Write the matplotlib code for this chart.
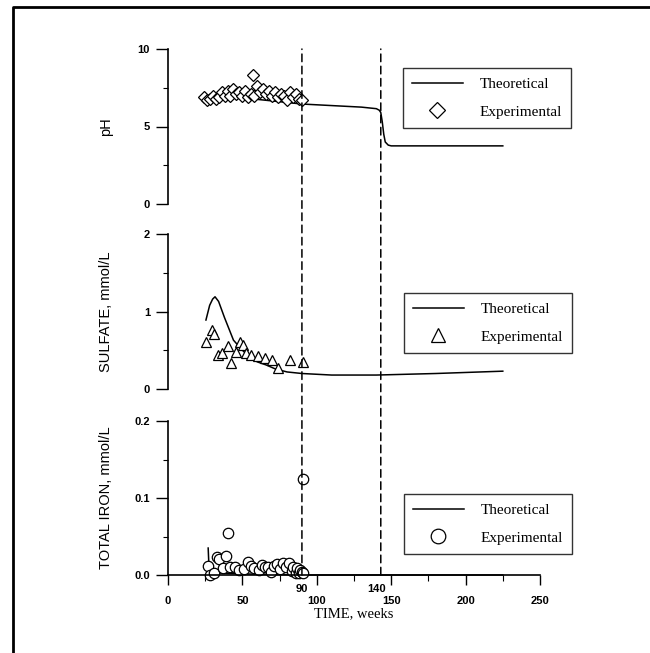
import matplotlib
matplotlib.use("Agg")
import matplotlib.pyplot as plt
from matplotlib.lines import Line2D
from matplotlib.patches import ConnectionPatch
from matplotlib.ticker import MultipleLocator, FixedLocator
import matplotlib.transforms as mtransforms

# ---------------- data ----------------
ph_exp_weeks = [24, 26, 28, 30, 32, 34, 36, 38, 40, 42, 44, 46, 48, 50, 52, 54, 56, 57, 58, 60,
                62, 64, 66, 68, 70, 72, 74, 76, 78, 80, 82, 84, 86, 88, 90]
ph_exp = [6.9, 6.7, 6.8, 7.0, 6.8, 6.9, 7.2, 7.0, 7.3, 7.0, 7.4, 7.1, 7.2, 7.0, 7.3, 6.9, 7.1, 8.3, 7.0, 7.6,
          7.2, 7.4, 7.1, 7.3, 7.0, 7.2, 6.9, 7.1, 7.0, 6.7, 7.2, 6.9, 7.1, 6.8, 6.7]
ph_th_weeks = [25, 40, 60, 90, 110, 130, 140, 142, 143, 144, 145, 146, 148, 150, 170, 200, 225]
ph_th = [6.9, 6.85, 6.75, 6.45, 6.35, 6.25, 6.15, 6.05, 5.9, 5.3, 4.5, 4.0, 3.8, 3.75, 3.75, 3.75, 3.75]

so4_exp_weeks = [25.5, 29.3, 31, 33.7, 36, 40, 42.4, 46, 48.3, 50.5, 52.7, 56, 60.6, 65, 69.6, 74, 82, 90.5]
so4_exp = [0.61, 0.76, 0.71, 0.44, 0.46, 0.55, 0.34, 0.48, 0.61, 0.57, 0.46, 0.44, 0.43, 0.40, 0.38, 0.27, 0.38, 0.35]
so4_th_weeks = [25.5, 28, 30, 31.6, 34, 38, 44, 50, 55, 60, 66, 72, 80, 90, 110, 140, 180, 225]
so4_th = [0.89, 1.08, 1.16, 1.19, 1.13, 0.92, 0.63, 0.50, 0.41, 0.35, 0.31, 0.26, 0.22, 0.20, 0.18, 0.18, 0.20, 0.23]

fe_exp_weeks = [27, 28, 31, 33, 34, 37, 39, 40.4, 42, 45, 48, 51, 54, 56, 58, 61, 63, 65, 67, 69,
                71, 73, 75, 77, 79, 81, 83, 84, 86, 87, 88, 89, 90, 90.9, 91]
fe_exp = [0.012, 0.0, 0.002, 0.023, 0.021, 0.009, 0.025, 0.055, 0.010, 0.011, 0.006, 0.008, 0.017, 0.012,
          0.009, 0.006, 0.013, 0.010, 0.011, 0.004, 0.012, 0.014, 0.008, 0.015, 0.010, 0.016, 0.005, 0.011,
          0.003, 0.009, 0.002, 0.006, 0.004, 0.125, 0.002]
fe_th_weeks = [27, 27.5, 29, 32, 40, 60, 90, 140, 225]
fe_th = [0.035, 0.012, 0.005, 0.003, 0.002, 0.001, 0.0, 0.0, 0.0]

transition_weeks = [90, 143]
xtick_vals = [0, 50, 100, 150, 200, 250]
extra_xlabels = [90, 140]

# ---------------- figure ----------------
W, H = 650, 653
fig = plt.figure(figsize=(W / 100, H / 100), dpi=100)
fig.patch.set_facecolor("white")

tick_font = dict(family="Liberation Sans", size=8, weight="bold")
label_font = dict(family="Liberation Sans", size=10.5)
serif = "Liberation Serif"

left = 168 / W
width = 372 / W


def make_ax(top_px, bot_px):
    return fig.add_axes([left, 1 - bot_px / H, width, (bot_px - top_px) / H])


ax1 = make_ax(49, 204)
ax2 = make_ax(234, 389)
ax3 = make_ax(421, 575)
axes = [ax1, ax2, ax3]

for ax in axes:
    ax.set_xlim(0, 250)
    for s in ["top", "right"]:
        ax.spines[s].set_visible(False)
    ax.spines["left"].set_linewidth(1.2)
    ax.patch.set_alpha(0)
    ax.tick_params(axis="y", which="major", direction="out", length=9, width=1.0, pad=4)
    ax.tick_params(axis="y", which="minor", direction="out", length=3.5, width=0.8)

for ax in [ax1, ax2]:
    ax.spines["bottom"].set_visible(False)
    ax.tick_params(axis="x", which="both", bottom=False, labelbottom=False)

# pH
ax1.set_ylim(0, 10)
ax1.yaxis.set_major_locator(FixedLocator([0, 5, 10]))
ax1.yaxis.set_minor_locator(FixedLocator([2.5, 7.5]))
ax1.plot(ph_th_weeks, ph_th, color="black", lw=1.1, label="Theoretical")
ax1.plot(ph_exp_weeks, ph_exp, linestyle="none", marker="D", markersize=6.0,
         markerfacecolor="white", markeredgecolor="black", markeredgewidth=0.9,
         label="Experimental", clip_on=False)
ax1.set_ylabel("pH", **label_font)

# Sulfate
ax2.set_ylim(0, 2)
ax2.yaxis.set_major_locator(FixedLocator([0, 1, 2]))
ax2.yaxis.set_minor_locator(FixedLocator([0.5, 1.5]))
ax2.plot(so4_th_weeks, so4_th, color="black", lw=1.1, label="Theoretical")
ax2.plot(so4_exp_weeks, so4_exp, linestyle="none", marker="^", markersize=7.5,
         markerfacecolor="white", markeredgecolor="black", markeredgewidth=0.9,
         label="Experimental", clip_on=False)
ax2.set_ylabel("SULFATE, mmol/L", **label_font)

# Iron
ax3.set_ylim(0, 0.2)
ax3.yaxis.set_major_locator(FixedLocator([0.0, 0.1, 0.2]))
ax3.yaxis.set_minor_locator(FixedLocator([0.05, 0.15]))
ax3.set_yticklabels(["0.0", "0.1", "0.2"])
ax3.plot(fe_th_weeks, fe_th, color="black", lw=1.1, label="Theoretical", clip_on=False)
ax3.plot(fe_exp_weeks, fe_exp, linestyle="none", marker="o", markersize=7.5,
         markerfacecolor="white", markeredgecolor="black", markeredgewidth=0.9,
         label="Experimental", clip_on=False)
ax3.set_ylabel("TOTAL IRON, mmol/L", **label_font)
ax3.spines["bottom"].set_linewidth(1.2)
ax3.xaxis.set_major_locator(FixedLocator(xtick_vals))
ax3.xaxis.set_minor_locator(MultipleLocator(25))
ax3.tick_params(axis="x", which="major", direction="out", length=7, width=1.0, pad=8)
ax3.tick_params(axis="x", which="minor", direction="out", length=4, width=0.8)
ax3.set_xlabel("TIME, weeks", family=serif, size=10.5, labelpad=1)
for v in extra_xlabels:
    ax3.text(v, -0.09, str(v), transform=mtransforms.blended_transform_factory(ax3.transData, ax3.transAxes),
             ha="center", va="center", **tick_font)

for ax in axes:
    for lab in ax.get_yticklabels() + ax.get_xticklabels():
        lab.set_fontfamily(tick_font["family"])
        lab.set_fontsize(tick_font["size"])
        lab.set_fontweight(tick_font["weight"])
    ax.yaxis.set_label_coords(-0.148, 0.5)

# dashed transition lines through all panels
for w in transition_weeks:
    con = ConnectionPatch(xyA=(w, 0.0), coordsA=ax3.transData,
                          xyB=(w, 10), coordsB=ax1.transData,
                          linestyle=(0, (5, 3)), color="black", lw=1.1)
    fig.add_artist(con)

# legends
legend_centers = [(487 / W, 1 - 98 / H), (488 / W, 1 - 323 / H), (488 / W, 1 - 524 / H)]
for ax, c in zip(axes, legend_centers):
    leg = ax.legend(loc="center", bbox_to_anchor=c, bbox_transform=fig.transFigure,
                    prop=dict(family=serif, size=11), frameon=True, fancybox=False,
                    handlelength=3.3, handletextpad=1.1, labelspacing=0.9,
                    borderpad=0.6, markerscale=1.4, borderaxespad=0)
    fr = leg.get_frame()
    fr.set_edgecolor("black")
    fr.set_linewidth(1.0)

# outer frame (left and top edges)
fx = 13 / W
fy = 1 - 7 / H
fig.add_artist(Line2D([fx, fx, 1.0], [0.0, fy, fy], transform=fig.transFigure,
                      color="black", lw=2.0))

fig.savefig("out.png", dpi=100)
